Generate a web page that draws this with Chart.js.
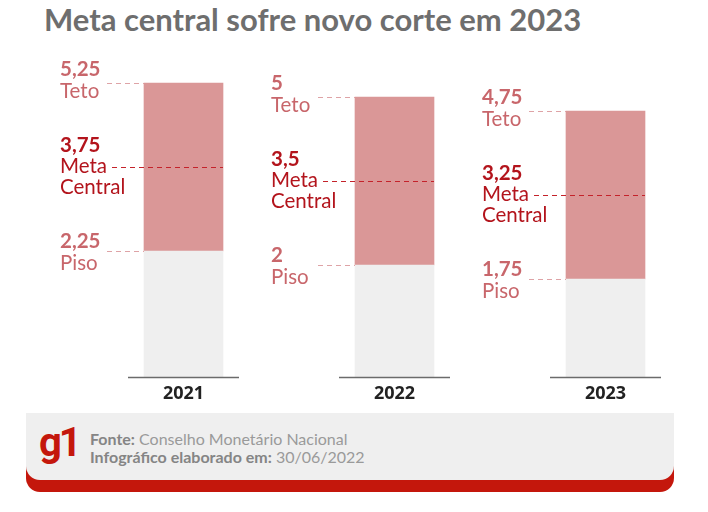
<!DOCTYPE html>
<html lang="pt-BR">
<head>
<meta charset="utf-8">
<script src="https://cdn.jsdelivr.net/npm/chart.js@4"></script>
<style>
  body { margin: 0; width: 708px; height: 512px; overflow: hidden; position: relative; background: #fff; font-family: Lato, "Open Sans", sans-serif; }
  #titulo { position: absolute; left: 44px; top: 0; margin: 0; font-size: 31px; font-weight: 700; color: #6e6e6e; line-height: 38px; white-space: nowrap; }
  .grafico { position: absolute; left: 0; top: 0; width: 720px; height: 512px; }
  .faixaVermelha { position: absolute; left: 26px; width: 648px; top: 430px; height: 62px; background: #c4170c; border-radius: 0 0 14px 14px; }
  .rodape { position: absolute; left: 26px; width: 648px; top: 413px; height: 67px; background: #efefef; border-radius: 0 0 14px 14px; }
  .logo { position: absolute; left: 13px; top: 8px; font-family: Roboto, "DejaVu Sans", sans-serif; font-size: 40px; line-height: 44px; font-weight: 700; color: #c4170c; letter-spacing: -3px; }
  .fonte { position: absolute; left: 64px; top: 17px; font-size: 16px; line-height: 18px; color: #9a9a9a; font-weight: 400; }
  .fonte b { font-weight: 700; color: #858585; }
</style>
</head>
<body>
<h1 id="titulo">Meta central sofre novo corte em 2023</h1>
<div class="grafico"><canvas id="metaChart"></canvas></div>
<div class="faixaVermelha"></div>
<div class="rodape">
  <div class="logo">g1</div>
  <div class="fonte"><b>Fonte:</b> Conselho Monetário Nacional<br><b>Infográfico elaborado em:</b> 30/06/2022</div>
</div>
<script>
const anos = ["2021", "2022", "2023"];
const piso = [2.25, 2, 1.75];
const meta = [3.75, 3.5, 3.25];
const teto = [5.25, 5, 4.75];
const rotuloPiso = ["2,25", "2", "1,75"];
const rotuloMeta = ["3,75", "3,5", "3,25"];
const rotuloTeto = ["5,25", "5", "4,75"];

const corTeto = "#c8666b";
const corMeta = "#b3141c";

function tracejado(ctx, x1, x2, y, cor) {
  ctx.save();
  ctx.strokeStyle = cor;
  ctx.lineWidth = 1.2;
  ctx.setLineDash([5, 4]);
  ctx.beginPath();
  ctx.moveTo(x1, y + 0.5);
  ctx.lineTo(x2, y + 0.5);
  ctx.stroke();
  ctx.restore();
}

const rotulos = {
  id: "rotulos",
  afterDatasetsDraw(chart) {
    const { ctx, scales: { y } } = chart;
    const barras = chart.getDatasetMeta(1).data;
    const base = y.getPixelForValue(0);

    barras.forEach((barra, i) => {
      const esq = barra.x - barra.width / 2;
      const dir = barra.x + barra.width / 2;
      const yTeto = y.getPixelForValue(teto[i]);
      const yMeta = y.getPixelForValue(meta[i]);
      const yPiso = y.getPixelForValue(piso[i]);
      const xt = esq - 84;

      tracejado(ctx, esq - 37, esq, yTeto, "#dea3a6");
      tracejado(ctx, esq - 37, esq, yPiso, "#dea3a6");
      tracejado(ctx, esq - 32, dir, yMeta, "#c4222a");

      ctx.save();
      ctx.textBaseline = "middle";
      ctx.textAlign = "left";

      ctx.fillStyle = corTeto;
      ctx.font = "bold 20.5px Lato";
      ctx.fillText(rotuloTeto[i], xt, yTeto - 14);
      ctx.fillText(rotuloPiso[i], xt, yPiso - 10);
      ctx.font = "20.5px Lato";
      ctx.fillText("Teto", xt, yTeto + 8);
      ctx.fillText("Piso", xt, yPiso + 12);

      ctx.fillStyle = corMeta;
      ctx.font = "bold 20.5px Lato";
      ctx.fillText(rotuloMeta[i], xt, yMeta - 22);
      ctx.font = "20.5px Lato";
      ctx.fillText("Meta", xt, yMeta - 1);
      ctx.fillText("Central", xt, yMeta + 20);

      // linha de base
      ctx.strokeStyle = "#6b6b6b";
      ctx.lineWidth = 1.5;
      ctx.beginPath();
      ctx.moveTo(esq - 16, base + 0.5);
      ctx.lineTo(dir + 16, base + 0.5);
      ctx.stroke();

      ctx.fillStyle = "#222";
      ctx.textAlign = "center";
      ctx.font = "bold 18px 'Open Sans'";
      ctx.fillText(anos[i], barra.x, base + 17);
      ctx.restore();
    });
  }
};

new Chart(document.getElementById("metaChart"), {
  type: "bar",
  data: {
    labels: anos,
    datasets: [
      {
        label: "Piso",
        data: piso,
        backgroundColor: "#efefef",
        grouped: false
      },
      {
        label: "Intervalo",
        data: piso.map((p, i) => [p, teto[i]]),
        backgroundColor: "#da9797",
        grouped: false
      }
    ]
  },
  options: {
    responsive: true,
    maintainAspectRatio: false,
    animation: false,
    barThickness: 79,
    layout: { padding: { left: 78, right: 9, top: 41, bottom: 135 } },
    scales: {
      x: { display: false },
      y: { display: false, min: 0, max: 6 }
    },
    plugins: {
      legend: { display: false },
      tooltip: { enabled: false }
    }
  },
  plugins: [rotulos]
});
</script>
</body>
</html>
